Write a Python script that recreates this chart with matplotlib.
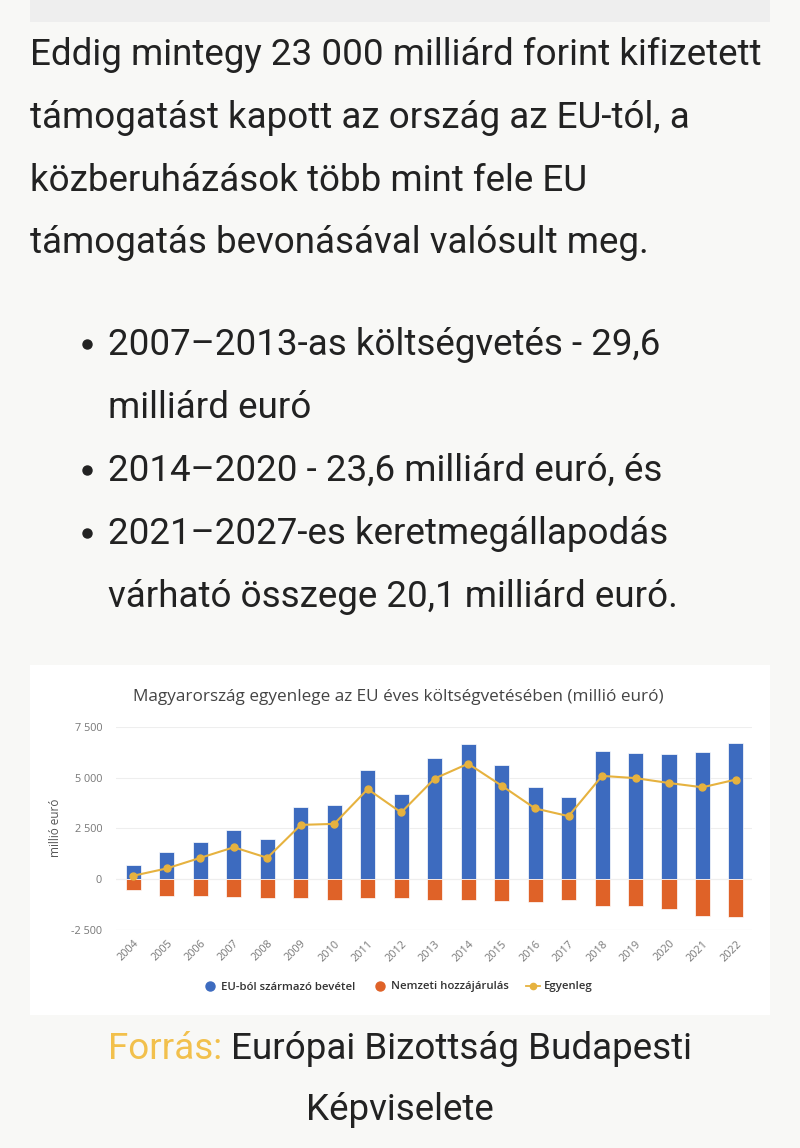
import matplotlib
matplotlib.use("Agg")
import matplotlib.pyplot as plt
from matplotlib.patches import Rectangle
from matplotlib.lines import Line2D
from matplotlib.ticker import FuncFormatter

# data (millió euró)
years = [str(y) for y in range(2004, 2023)]
eu_income = [680, 1320, 1820, 2400, 1970, 3550, 3630, 5370, 4180, 5950,
             6630, 5630, 4530, 4030, 6320, 6220, 6180, 6270, 6720]
national = [-530, -850, -820, -900, -930, -930, -1000, -950, -930, -1030,
            -1000, -1080, -1130, -1000, -1300, -1300, -1480, -1800, -1850]
balance = [170, 530, 1050, 1570, 1050, 2670, 2720, 4430, 3280, 4950,
           5680, 4600, 3480, 3100, 5080, 4970, 4730, 4520, 4900]

para_lines = ["Eddig mintegy 23 000 milliárd forint kifizetett",
              "támogatást kapott az ország az EU-tól, a",
              "közberuházások több mint fele EU",
              "támogatás bevonásával valósult meg."]
bullets = [["2007\u20132013-as költségvetés - 29,6", "milliárd euró"],
           ["2014\u20132020 - 23,6 milliárd euró, és"],
           ["2021\u20132027-es keretmegállapodás", "várható összege 20,1 milliárd euró."]]

BLUE = "#3d6bbf"
ORANGE = "#df6228"
GOLD = "#e6b23f"
TXT = "#222222"
FS = 26.5

W, H = 800, 1148


def fx(x):
    return x / W


def fy(y):
    return 1 - y / H


fig = plt.figure(figsize=(8, 11.48), dpi=100, facecolor="#f8f8f6")

# grey strip at top and white chart card
fig.patches.append(Rectangle((fx(30), fy(22)), fx(740), 22 / H, transform=fig.transFigure,
                             facecolor="#eeeeee", edgecolor="none", zorder=-10))
fig.patches.append(Rectangle((fx(30), fy(1015)), fx(740), 350 / H, transform=fig.transFigure,
                             facecolor="white", edgecolor="none", zorder=-10))

body = dict(family="Roboto", fontsize=FS, color=TXT, va="baseline")
base = [65, 128, 191, 253]
for line, b in zip(para_lines, base):
    fig.text(fx(30), fy(b), line, **body)

yb = 355
for item in bullets:
    fig.add_artist(Line2D([fx(87)], [fy(yb - 11)], marker="o", markersize=6.5, color=TXT,
                          linestyle="none", transform=fig.transFigure))
    for line in item:
        fig.text(fx(108), fy(yb), line, **body)
        yb += 63

# chart
ax = fig.add_axes([fx(116), fy(930), fx(752) - fx(116), (930 - 726.7) / H])
ax.set_facecolor("white")
x = list(range(len(years)))
ax.bar(x, eu_income, width=0.45, color=BLUE, edgecolor="white", linewidth=0.5, zorder=2)
ax.bar(x, national, width=0.45, color=ORANGE, edgecolor="white", linewidth=0.5, zorder=2)
ax.plot(x, balance, color=GOLD, linewidth=1.5, marker="o", markersize=5, zorder=3)

ax.set_xlim(-0.52, 18.48)
ax.set_ylim(-2500, 7500)
ax.set_yticks([-2500, 0, 2500, 5000, 7500])
ax.yaxis.set_major_formatter(FuncFormatter(lambda v, p: f"{int(v):,}".replace(",", " ")))
ax.grid(axis="y", color="#eeeeee", linewidth=0.8, zorder=0)
ax.axhline(0, color="#f3e4e4", linewidth=0.8, zorder=1)
ax.axhline(-2500, color="#dcdcdc", linewidth=0.8, zorder=1)
for s in ax.spines.values():
    s.set_visible(False)
ax.tick_params(length=0, labelsize=7.8, labelcolor="#777777")
ax.tick_params(axis="y", pad=10)
ax.set_xticks(x)
ax.set_xticklabels(years, rotation=45, ha="right", va="top", rotation_mode="anchor")
for t in ax.get_xticklabels() + ax.get_yticklabels():
    t.set_family("Open Sans")
ax.tick_params(axis="x", pad=6)

fig.text(fx(55), fy(828), "millió euró", rotation=90, ha="center", va="center",
         family="Open Sans", fontsize=8.5, color="#555555")
fig.text(fx(398), fy(701), "Magyarország egyenlege az EU éves költségvetésében (millió euró)",
         ha="center", va="baseline", family="Open Sans", fontsize=12.3, color="#444444")

handles = [Line2D([], [], linestyle="none", marker="o", markersize=6.5, color=BLUE),
           Line2D([], [], linestyle="none", marker="o", markersize=6.5, color=ORANGE),
           Line2D([], [], color=GOLD, linewidth=1.3, marker="o", markersize=4.5)]
labels = ["EU-ból származó bevétel", "Nemzeti hozzájárulás", "Egyenleg"]
leg = fig.legend(handles, labels, loc="center", bbox_to_anchor=(fx(398), fy(987)), ncol=3,
                 frameon=False, handlelength=1.2, handletextpad=0.4, columnspacing=1.5,
                 prop=dict(family="Open Sans", size=8.2, weight="semibold"))
for t in leg.get_texts():
    t.set_color("#333333")

# source line: gold label followed by dark text, centred as one line
r = fig.canvas.get_renderer()
t1 = fig.text(0, fy(1059), "Forrás: ", va="baseline", family="Roboto", fontsize=FS, color="#f2c04c")
t2 = fig.text(0, fy(1059), "Európai Bizottság Budapesti", va="baseline", family="Roboto",
              fontsize=FS, color=TXT)
w1 = t1.get_window_extent(r).width
w2 = t2.get_window_extent(r).width
x0 = 400 - (w1 + w2) / 2
t1.set_x(fx(x0))
t2.set_x(fx(x0 + w1))
fig.text(fx(400), fy(1120), "Képviselete", ha="center", va="baseline", family="Roboto",
         fontsize=FS, color=TXT)

fig.savefig("out.png", dpi=100, facecolor=fig.get_facecolor())
